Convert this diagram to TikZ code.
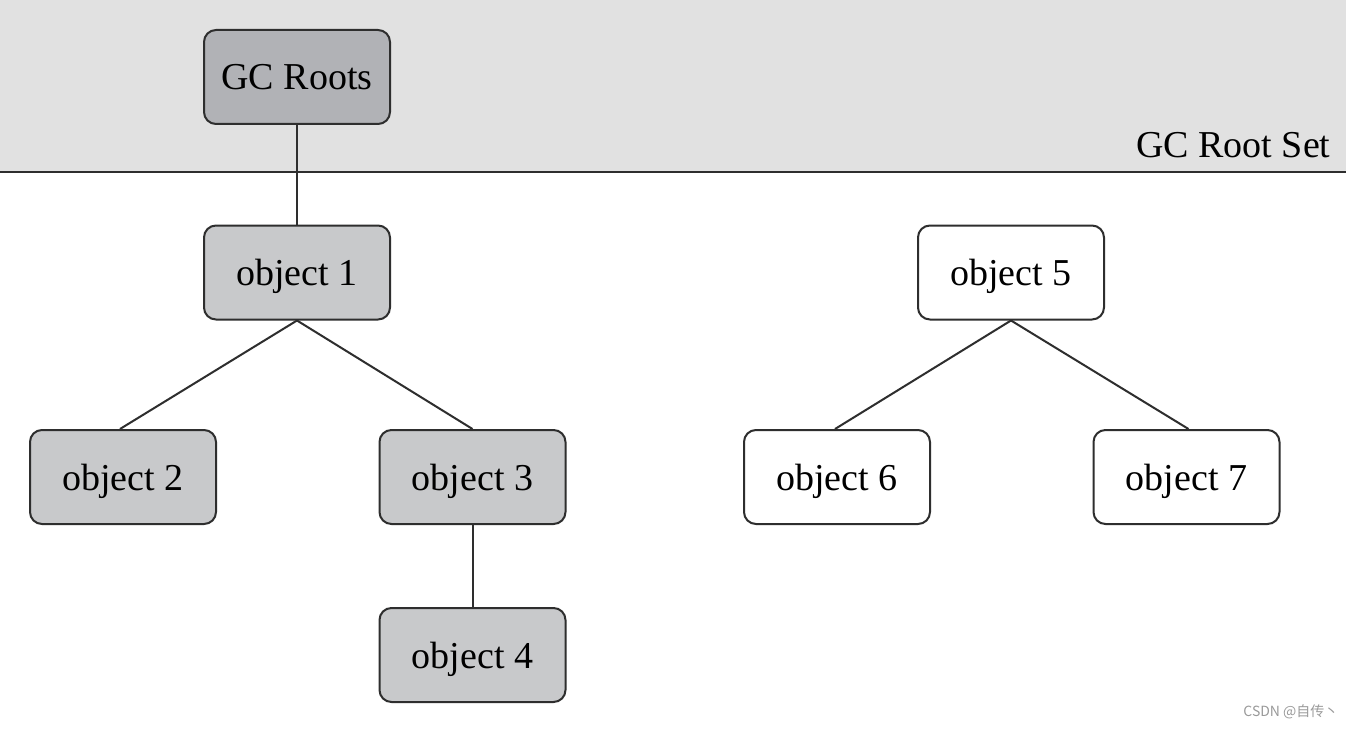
\documentclass[tikz,border=0pt]{standalone}
\usepackage{fontspec}
\setmainfont{Liberation Serif}
\newfontfamily\cjkfont{Noto Sans CJK SC}
\definecolor{bandgray}{HTML}{E1E1E1}
\definecolor{rootgray}{HTML}{B1B2B6}
\definecolor{objgray}{HTML}{C8C9CB}
\definecolor{edgecol}{HTML}{2E2E2E}
\definecolor{wmgray}{HTML}{9A9A9A}
\begin{document}
\begin{tikzpicture}[x=1pt,y=-1pt,
  objbox/.style={draw=edgecol,line width=2pt,rounded corners=12pt,minimum width=186pt,minimum height=94pt,inner sep=0pt,font=\fontsize{38}{40}\selectfont,text=black,text depth=0pt},
  live/.style={objbox,fill=objgray},
  rootbox/.style={objbox,fill=rootgray},
  dead/.style={objbox,fill=white},
  conn/.style={draw=edgecol,line width=2pt}]
\useasboundingbox (0,0) rectangle (1354,730);
\fill[white] (0,0) rectangle (1354,730);
\fill[bandgray] (0,0) rectangle (1346,172);
\draw[conn] (0,172) -- (1346,172);
\node[anchor=base east,font=\fontsize{38}{40}\selectfont] (setlabel) at (1334,158) {GC Root Set};

\node[rootbox] (roots) at (297,77) {GC Roots};
\node[live] (o1) at (297,272.5) {object 1};
\node[live] (o2) at (123,477) {object 2};
\node[live] (o3) at (472.5,477) {object 3};
\node[live] (o4) at (472.5,655) {object 4};
\node[dead] (o5) at (1011,272.5) {object 5};
\node[dead] (o6) at (837,477) {object 6};
\node[dead] (o7) at (1186.5,477) {object 7};

\draw[conn] (roots.south) -- (o1.north);
\draw[conn] (o1.south) -- ([xshift=-3pt]o2.north);
\draw[conn] (o1.south) -- (o3.north);
\draw[conn] (o3.south) -- (o4.north);
\draw[conn] (o5.south) -- ([xshift=-2pt]o6.north);
\draw[conn] (o5.south) -- ([xshift=2pt]o7.north);

\node[anchor=east,text=wmgray,font=\cjkfont\fontsize{14}{16}\selectfont] (wm) at (1342,712) {CSDN @自传丶};
\end{tikzpicture}
\end{document}
